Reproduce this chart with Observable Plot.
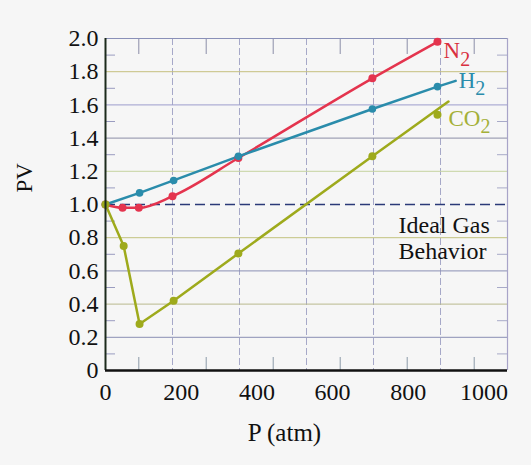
<!DOCTYPE html>
<html><head><meta charset="utf-8">
<script src="https://cdn.jsdelivr.net/npm/d3@7"></script>
<script src="https://cdn.jsdelivr.net/npm/@observablehq/plot@0.6"></script>
<style>
html,body{margin:0;padding:0;background:#f6f6f6;}
#chart svg{display:block;}
</style>
</head><body><div id="chart"></div>
<script>
// axis ticks
const xTicks = [0, 200, 400, 600, 800, 1000];
const yTicks = [0, 0.2, 0.4, 0.6, 0.8, 1.0, 1.2, 1.4, 1.6, 1.8, 2.0];
const xGrid = [177, 354, 531, 708, 885];
const xMinor = [88, 266, 443, 620, 797, 974];
const yGrid = [0.2, 0.4, 0.6, 0.8, 1.2, 1.4, 1.6, 1.8];
const yMinor = [0.1, 0.3, 0.5, 0.7, 0.9, 1.1, 1.3, 1.5, 1.7, 1.9];
const xMax = 1062;
const yMax = 2.0;

// N2
const n2P  = [0, 45, 88, 177, 351, 705, 877];
const n2PV = [1.0, 0.98, 0.98, 1.05, 1.28, 1.76, 1.98];
// H2 (measured points, then where the drawn line ends)
const h2P  = [0, 90, 180, 351, 705, 877];
const h2PV = [1.0, 1.07, 1.145, 1.29, 1.575, 1.71];
const h2LineEndP = 925, h2LineEndPV = 1.745;
// CO2
const co2P  = [0, 48, 90, 180, 351, 705, 877];
const co2PV = [1.0, 0.75, 0.28, 0.42, 0.705, 1.29, 1.54];
const co2LinePV = [1.0, 0.75, 0.28, 0.42, 0.705, 1.29];
const co2LineEndP = 906, co2LineEndPV = 1.62;

const idealPV = 1.0;

const gasNames = ["N2", "H2", "CO2"];
const gasLabelP = [893, 933, 906];
const gasLabelPV = [1.925, 1.745, 1.52];
const colors = {N2: "#e4344e", H2: "#2a8cab", CO2: "#9eaa1c"};
const labelColors = {N2: "#d93040", H2: "#2a8cab", CO2: "#a4b038"};

const zip = (xs, ys) => xs.map((x, i) => ({x, y: ys[i]}));
const n2 = zip(n2P, n2PV);
const h2 = zip(h2P, h2PV);
const h2Line = [...h2, {x: h2LineEndP, y: h2LineEndPV}];
const co2 = zip(co2P, co2PV);
const co2Line = [...zip(co2P.slice(0, co2LinePV.length), co2LinePV), {x: co2LineEndP, y: co2LineEndPV}];
const gasLabels = gasNames.map((name, i) => ({name, x: gasLabelP[i], y: gasLabelPV[i]}));

const gridYColor = (d) => ({0.2: "#8a8fb4", 0.4: "#b9b98e", 0.6: "#8a8fb4", 0.8: "#c2c27e",
  1.2: "#c6d4a0", 1.4: "#8c8ea6", 1.6: "#9c9ccc", 1.8: "#c6bf7e"})[d];

const chart = Plot.plot({
  width: 531, height: 465,
  marginTop: 38, marginRight: 24, marginBottom: 95, marginLeft: 105,
  style: {fontFamily: "'Liberation Serif', 'Times New Roman', serif", fontSize: "24px", background: "#f6f6f6", color: "#111"},
  x: {domain: [0, xMax]},
  y: {domain: [0, yMax]},
  marks: [
    // gridlines
    Plot.ruleX(xGrid, {stroke: "#a6a8c8", strokeWidth: 1, strokeDasharray: "7,3"}),
    Plot.ruleY(yGrid, {stroke: gridYColor, strokeWidth: 1, strokeDasharray: d => (d === 1.4 || d === 0.2 || d === 0.6) ? null : "8,3"}),
    // minor ticks (inward)
    Plot.axisY({anchor: "left", ticks: yMinor, tickSize: -10, tickFormat: () => "", stroke: "#9a9cc0", label: null}),
    Plot.axisY({anchor: "right", ticks: yMinor, tickSize: -11, tickFormat: () => "", stroke: "#a8aac8", label: null}),
    Plot.axisX({anchor: "top", ticks: xMinor, tickSize: -15, tickFormat: () => "", stroke: "#8c8ea8", label: null}),
    Plot.axisX({anchor: "bottom", ticks: xMinor, tickSize: -13, tickFormat: () => "", stroke: "#8c9aa8", label: null}),
    // frame
    Plot.ruleY([yMax], {stroke: "#8a90b8", strokeWidth: 1.2}),
    Plot.ruleX([xMax], {stroke: "#a8a4c8", strokeWidth: 1.2}),
    // ideal gas
    Plot.ruleY([idealPV], {stroke: "#2b3a78", strokeWidth: 1.6, strokeDasharray: "10,5"}),
    // tick labels
    Plot.axisY({ticks: yTicks, tickSize: 0, tickPadding: 7, tickFormat: d => d === 0 ? "0" : d.toFixed(1), label: null, fontSize: 24}),
    Plot.axisX({ticks: xTicks, tickSize: 0, tickPadding: 12, tickFormat: d => String(d), label: null, fontSize: 24}),
    // series
    Plot.line(n2, {x: "x", y: "y", stroke: colors.N2, strokeWidth: 2.5, curve: "monotone-x"}),
    Plot.line(h2Line, {x: "x", y: "y", stroke: colors.H2, strokeWidth: 2.5}),
    Plot.line(co2Line, {x: "x", y: "y", stroke: colors.CO2, strokeWidth: 2.5}),
    Plot.dot(n2, {x: "x", y: "y", r: 4, fill: colors.N2}),
    Plot.dot(h2, {x: "x", y: "y", r: 3.8, fill: colors.H2}),
    Plot.dot(co2, {x: "x", y: "y", r: 4, fill: colors.CO2}),
    // axes lines
    Plot.ruleX([0], {stroke: "#1c2a1c", strokeWidth: 2}),
    Plot.ruleY([0], {stroke: "#111", strokeWidth: 2.5}),
    // annotations
    Plot.text(gasLabels, {x: "x", y: "y", text: "name", fill: d => labelColors[d.name], textAnchor: "start", lineAnchor: "middle", fontSize: 23}),
    Plot.text(["Ideal Gas\nBehavior"], {x: 774, y: 0.934, textAnchor: "start", lineAnchor: "top", lineHeight: 1.05, fontSize: 24}),
    Plot.text(["P (atm)"], {frameAnchor: "bottom", dx: -22, dy: 62, lineAnchor: "middle", fontSize: 25}),
    Plot.text(["PV"], {frameAnchor: "left", dx: -81, dy: -12, rotate: -90, lineAnchor: "middle", fontSize: 23})
  ]
});

// subscripts for gas labels
for (const t of chart.querySelectorAll("text")) {
  const m = /^(N|H|CO)2$/.exec(t.textContent);
  if (m) {
    t.textContent = m[1];
    const ts = document.createElementNS("http://www.w3.org/2000/svg", "tspan");
    ts.setAttribute("dy", "0.36em");
    ts.setAttribute("font-size", "20");
    ts.textContent = "2";
    t.appendChild(ts);
  }
}
document.getElementById("chart").appendChild(chart);
</script>
</body></html>
